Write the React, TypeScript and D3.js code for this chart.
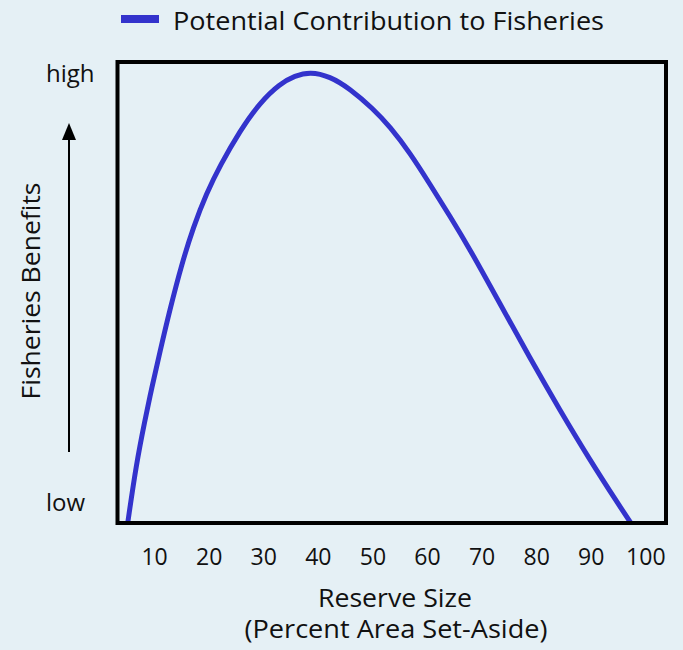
import React from "react";
import * as d3 from "d3";

const reserveSize = [5.07, 6.65, 8.19, 9.47, 10.99, 12.82, 14.96, 17.09, 19.54, 21.98, 25.64, 29.3, 32.97, 35.71, 38.46, 42.12, 45.79, 50.0, 53.11, 56.78, 60.44, 64.1, 67.77, 73.26, 78.75, 84.25, 89.74, 95.24, 97.25];
const benefit = [0, 0.128, 0.221, 0.293, 0.372, 0.464, 0.561, 0.642, 0.716, 0.775, 0.851, 0.912, 0.953, 0.97, 0.979, 0.969, 0.942, 0.899, 0.86, 0.803, 0.735, 0.666, 0.594, 0.476, 0.358, 0.245, 0.137, 0.036, 0];
const xTicks = [10, 20, 30, 40, 50, 60, 70, 80, 90, 100];
const yLabels = ["low", "high"];
const yLabelValues = [0.045, 0.975];
const seriesName = "Potential Contribution to Fisheries";

const W = 683, H = 650;
const BG = "#e5f0f5";
const LINE = "#3333cc";
const FONT = "'Open Sans', 'Noto Sans', sans-serif";

export default function App() {
  const x = d3.scaleLinear().domain([3.2, 103.7]).range([117.5, 666]);
  const y = d3.scaleLinear().domain([0, 1]).range([523, 62]);
  const pts = reserveSize.map((v, i) => [v, benefit[i]] as [number, number]);
  const line = d3.line<[number, number]>().x(d => x(d[0])).y(d => y(d[1])).curve(d3.curveBasis);
  const [x0, x1] = x.range();
  const [yb, yt] = y.range();
  return (
    <svg width={W} height={H} style={{ position: "absolute", left: 0, top: 0, display: "block" }} fontFamily={FONT}>
      <defs>
        <clipPath id="plotclip">
          <rect x={x0} y={yt} width={x1 - x0} height={yb - yt} />
        </clipPath>
      </defs>
      <rect x={0} y={0} width={W} height={H} fill={BG} />
      {/* legend */}
      <rect x={121} y={15} width={38} height={8} fill={LINE} />
      <text x={173} y={30} fontSize={25} fill="#111" textLength={431} lengthAdjust="spacingAndGlyphs">{seriesName}</text>
      {/* curve */}
      <path d={line(pts) || ""} fill="none" stroke={LINE} strokeWidth={5} clipPath="url(#plotclip)" />
      {/* frame */}
      <rect x={x0} y={yt} width={x1 - x0} height={yb - yt} fill="none" stroke="#000" strokeWidth={4} />
      {/* x ticks */}
      {xTicks.map(t => (
        <text key={t} x={x(t)} y={565} textAnchor="middle" fontSize={23} fill="#111">{t}</text>
      ))}
      {/* y labels */}
      {yLabels.map((l, i) => (
        <text key={l} x={46} y={y(yLabelValues[i])} dy="0.35em" fontSize={24} fill="#111">{l}</text>
      ))}
      {/* arrow */}
      <line x1={69} x2={69} y1={452} y2={138} stroke="#000" strokeWidth={2} />
      <path d="M69,123 L62,140 L76,140 Z" fill="#000" />
      <text transform="translate(40,291) rotate(-90)" textAnchor="middle" fontSize={25} fill="#111" textLength={217} lengthAdjust="spacingAndGlyphs">Fisheries Benefits</text>
      {/* x title */}
      <text x={395} y={607} textAnchor="middle" fontSize={25} fill="#111" textLength={154} lengthAdjust="spacingAndGlyphs">Reserve Size</text>
      <text x={396} y={638} textAnchor="middle" fontSize={25} fill="#111" textLength={303} lengthAdjust="spacingAndGlyphs">(Percent Area Set-Aside)</text>
    </svg>
  );
}
